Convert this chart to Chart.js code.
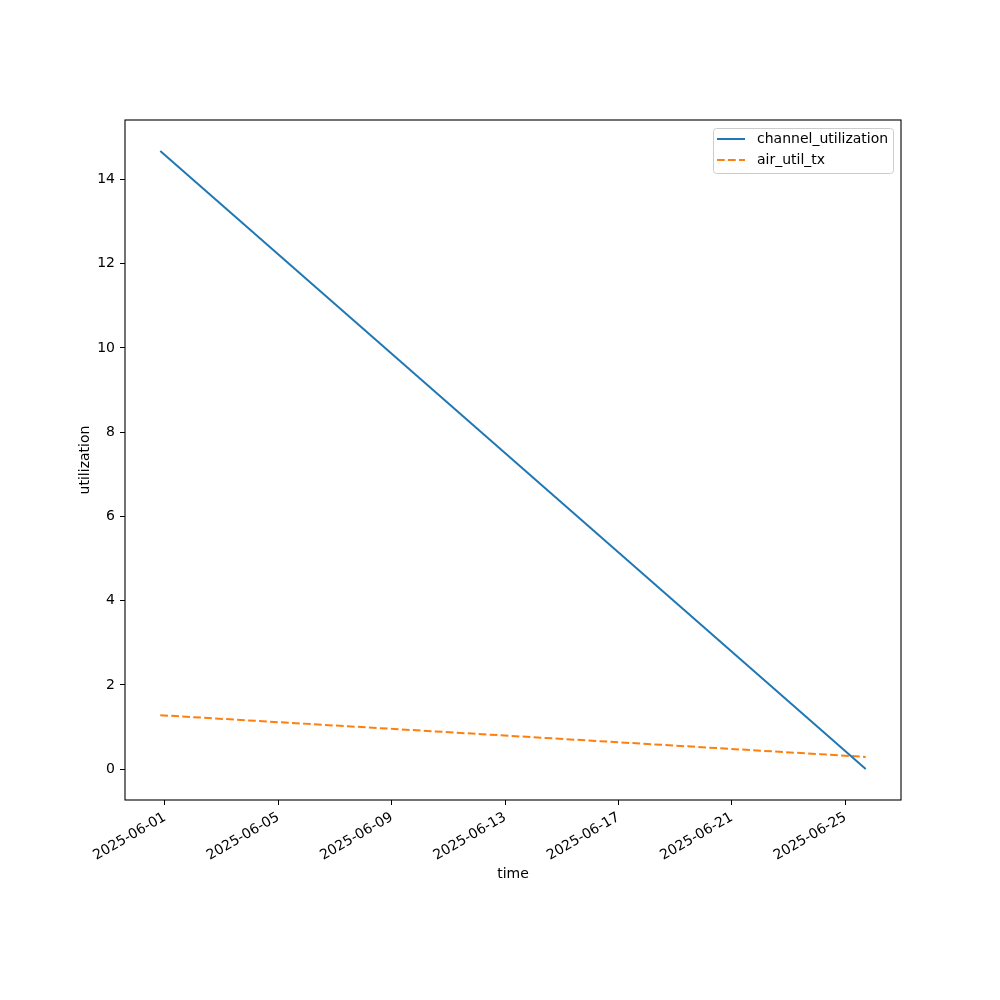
<!DOCTYPE html>
<html lang="en">
<head>
  <meta charset="UTF-8" />
  <title>channel_utilization / air_util_tx</title>
  <script src="https://cdn.jsdelivr.net/npm/chart.js"></script>
  <style>
    body { margin: 0; background: #fff; }
    canvas { display: block; }
  </style>
</head>
<body>
  <canvas id="utilChart" width="1000" height="1000"></canvas>

  <script>
    // data
    const times = ["2025-05-31T20:00:00Z", "2025-06-25T17:15:00Z"];
    const channelUtilization = [14.68, 0.0];
    const airUtilTx = [1.28, 0.29];
    const xTickDates = ["2025-06-01", "2025-06-05", "2025-06-09", "2025-06-13", "2025-06-17", "2025-06-21", "2025-06-25"];
    const yTicks = [0, 2, 4, 6, 8, 10, 12, 14];

    const DAY = 86400000;
    const origin = Date.parse("2025-06-01T00:00:00Z");
    const toDays = s => (Date.parse(s) - origin) / DAY;
    const xDays = times.map(toDays);
    const xTickDays = xTickDates.map(d => toDays(d + "T00:00:00Z"));

    // matplotlib style 5% margins
    function padRange(vals) {
      const lo = Math.min(...vals), hi = Math.max(...vals);
      const m = (hi - lo) * 0.05;
      return [lo - m, hi + m];
    }
    const [xMin, xMax] = padRange(xDays);
    const [yMin, yMax] = padRange(channelUtilization.concat(airUtilTx));

    const font = { family: "'DejaVu Sans', sans-serif", size: 14 };

    function fmtDay(v) {
      const d = new Date(origin + Math.round(v * DAY));
      return d.toISOString().slice(0, 10);
    }

    // frame around the plot area
    const framePlugin = {
      id: "frame",
      afterDatasetsDraw(chart) {
        const a = chart.chartArea, c = chart.ctx;
        c.save();
        c.strokeStyle = "#000";
        c.lineWidth = 1.1;
        c.strokeRect(a.left, a.top, a.right - a.left, a.bottom - a.top);
        c.restore();
      }
    };

    // legend box in the upper right corner, drawn like matplotlib
    const legendPlugin = {
      id: "mplLegend",
      afterDraw(chart) {
        const c = chart.ctx, a = chart.chartArea;
        const x = a.right - 188, y = a.top + 8, w = 180, h = 45;
        c.save();
        c.fillStyle = "rgba(255,255,255,0.8)";
        c.strokeStyle = "#cccccc";
        c.lineWidth = 1;
        c.beginPath();
        c.roundRect(x + 0.5, y + 0.5, w, h, 3);
        c.fill();
        c.stroke();
        c.font = "14px 'DejaVu Sans', sans-serif";
        c.textBaseline = "middle";
        chart.data.datasets.forEach((ds, i) => {
          const ly = y + 11 + i * 21;
          c.strokeStyle = ds.borderColor;
          c.lineWidth = ds.borderWidth;
          c.setLineDash(ds.borderDash || []);
          c.beginPath();
          c.moveTo(x + 4, ly);
          c.lineTo(x + 32, ly);
          c.stroke();
          c.setLineDash([]);
          c.fillStyle = "#000";
          c.fillText(ds.label, x + 44, ly);
        });
        c.restore();
      }
    };

    const ctx = document.getElementById("utilChart").getContext("2d");
    new Chart(ctx, {
      type: "line",
      data: {
        datasets: [
          {
            label: "channel_utilization",
            data: xDays.map((x, i) => ({ x: x, y: channelUtilization[i] })),
            borderColor: "#1f77b4",
            borderWidth: 2,
            pointRadius: 0,
            fill: false
          },
          {
            label: "air_util_tx",
            data: xDays.map((x, i) => ({ x: x, y: airUtilTx[i] })),
            borderColor: "#ff7f0e",
            borderWidth: 2,
            borderDash: [7.7, 3.3],
            pointRadius: 0,
            fill: false
          }
        ]
      },
      options: {
        responsive: false,
        animation: false,
        layout: { padding: { left: 77, top: 120, right: 99, bottom: 117 } },
        plugins: {
          legend: { display: false },
          tooltip: { enabled: false }
        },
        scales: {
          x: {
            type: "linear",
            min: xMin,
            max: xMax,
            afterBuildTicks: s => { s.ticks = xTickDays.map(v => ({ value: v })); },
            afterFit: s => { s.height = 83; },
            border: { display: false },
            grid: { drawOnChartArea: false, drawTicks: true, tickLength: 5, tickColor: "#000", tickWidth: 1 },
            ticks: {
              color: "#000",
              font: font,
              padding: 4,
              autoSkip: false,
              minRotation: 30,
              maxRotation: 30,
              callback: v => fmtDay(v)
            },
            title: { display: true, text: "time", color: "#000", font: font, padding: 0 }
          },
          y: {
            type: "linear",
            min: yMin,
            max: yMax,
            afterBuildTicks: s => { s.ticks = yTicks.map(v => ({ value: v })); },
            afterFit: s => { s.width = 48; },
            border: { display: false },
            grid: { drawOnChartArea: false, drawTicks: true, tickLength: 5, tickColor: "#000", tickWidth: 1 },
            ticks: { color: "#000", font: font, padding: 5 },
            title: { display: true, text: "utilization", color: "#000", font: font, padding: 0 }
          }
        }
      },
      plugins: [framePlugin, legendPlugin]
    });
  </script>
</body>
</html>
